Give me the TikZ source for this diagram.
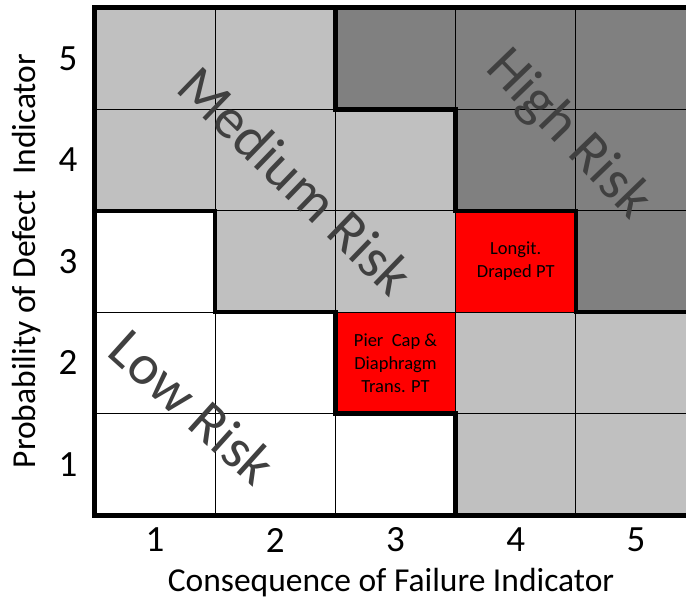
\documentclass[tikz,border=0pt]{standalone}
\usepackage{fontspec}
\setmainfont{Carlito}
\definecolor{lowgray}{HTML}{C0C0C0}
\definecolor{highgray}{HTML}{808080}
\tikzset{
    gridline/.style={black, line width=1.3pt},
    riskline/.style={black, line width=4.5pt, line join=miter},
    risklabel/.style={text=black!75, font=\fontsize{57}{60}\selectfont, inner sep=0pt},
    axisnum/.style={font=\fontsize{37}{40}\selectfont, inner sep=0pt},
    axistitle/.style={font=\fontsize{33.5}{36}\selectfont, inner sep=0pt},
    celltext/.style={align=center, font=\fontsize{18.5}{23}\selectfont, inner sep=0pt}
}
\begin{document}
\begin{tikzpicture}[x=120.2pt, y=101.4pt]
    \useasboundingbox (-0.7903,-0.8284) rectangle (4.9168,5.0789);
    \clip (-0.7903,-0.8284) rectangle (4.9168,5.0789);
    % regions
    \fill[lowgray] (0,0) rectangle (5,5);
    \fill[white] (0,0) -- (0,3) -- (1,3) -- (1,2) -- (2,2) -- (2,1) -- (3,1) -- (3,0) -- cycle;
    \fill[highgray] (2,5) -- (2,4) -- (3,4) -- (3,3) -- (4,3) -- (4,2) -- (5,2) -- (5,5) -- cycle;
    \fill[red] (3,2) rectangle (4,3);
    \fill[red] (2,1) rectangle (3,2);
    % grid
    \foreach \i in {1,...,4} {
        \draw[gridline] (\i,0) -- (\i,5);
        \draw[gridline] (0,\i) -- (5,\i);
    }
    % borders between risk levels
    \draw[riskline] (0,3) -- (1,3) -- (1,2) -- (2,2) -- (2,1) -- (3,1) -- (3,0);
    \draw[riskline] (2,5) -- (2,4) -- (3,4) -- (3,3) -- (4,3) -- (4,2) -- (5.2,2);
    \draw[riskline, line width=5pt] (5.2,0) -- (0,0) -- (0,5) -- (5.2,5);
    % labels
    \node[risklabel, rotate=-44] (medium) at (1.672,3.30) {Medium Risk};
    \node[risklabel, rotate=-46] (high) at (3.935,3.748) {High Risk};
    \node[risklabel, rotate=-42] (low) at (0.815,1.065) {Low Risk};
    \node[celltext] (longit) at (3.5,2.5) {Longit.\\Draped PT};
    \node[celltext] (piercap) at (2.5,1.5) {Pier~ Cap \&\\Diaphragm\\Trans. PT};
    \foreach \n in {1,...,5} {
        \node[axisnum] (cons\n) at (\n-0.5,-0.247) {\n};
        \node[axisnum] (prob\n) at (-0.225,\n-0.5) {\n};
    }
    \node[axistitle] (xtitle) at (2.463,-0.67) {Consequence of Failure Indicator};
    \node[axistitle, rotate=90] (ytitle) at (-0.566,2.505) {Probability of Defect~ Indicator};
\end{tikzpicture}
\end{document}
